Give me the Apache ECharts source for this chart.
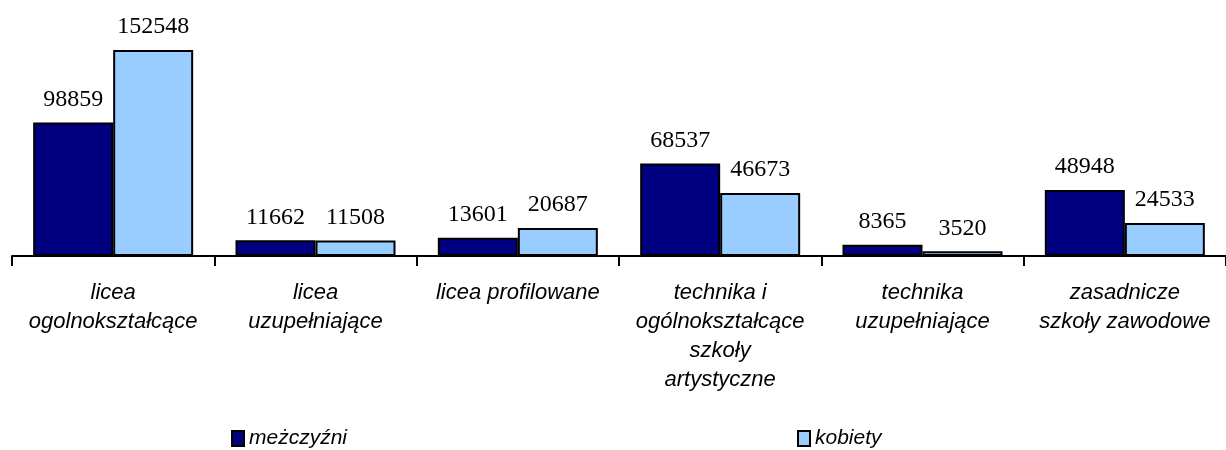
<!DOCTYPE html>
<html>
<head>
<meta charset="utf-8">
<script src="https://cdn.jsdelivr.net/npm/echarts@6/dist/echarts.min.js"></script>
<style>
  html, body { margin: 0; padding: 0; background: #fff; }
  #chart { width: 1226px; height: 450px; }
</style>
</head>
<body>
<div id="chart"></div>
<script>
var categories = [
  'licea\nogolnokształcące',
  'licea\nuzupełniające',
  'licea profilowane',
  'technika i\nogólnokształcące\nszkoły\nartystyczne',
  'technika\nuzupełniające',
  'zasadnicze\nszkoły zawodowe'
]
var menValues = [98859, 11662, 13601, 68537, 8365, 48948]
var womenValues = [152548, 11508, 20687, 46673, 3520, 24533]
var seriesNames = ['meżczyźni', 'kobiety']

var chart = echarts.init(document.getElementById('chart'))

function barLabel() {
  return {
    show: true,
    position: 'top',
    distance: 11,
    color: '#000',
    fontFamily: 'Liberation Serif',
    fontSize: 24,
    fontWeight: 'normal'
  }
}

var legendText = {
  fontFamily: '"Liberation Sans", Arial, sans-serif',
  fontStyle: 'italic',
  fontSize: 21,
  color: '#000',
  padding: [0, 0, 0, 0]
}

chart.setOption({
  backgroundColor: '#fff',
  animation: false,
  grid: { left: 12, right: -7, top: 13, height: 243 },
  legend: [
    {
      data: [seriesNames[0]],
      icon: 'rect',
      left: 226, top: 423,
      itemWidth: 12, itemHeight: 15, itemGap: 4,
      textStyle: legendText
    },
    {
      data: [seriesNames[1]],
      icon: 'rect',
      left: 792, top: 423,
      itemWidth: 12, itemHeight: 15, itemGap: 4,
      textStyle: legendText
    }
  ],
  xAxis: {
    type: 'category',
    data: categories,
    axisLine: { lineStyle: { color: '#000', width: 2 } },
    axisTick: { show: true, length: 10, lineStyle: { color: '#000', width: 2 } },
    axisLabel: {
      interval: 0,
      margin: 22,
      color: '#000',
      fontFamily: '"Liberation Sans", Arial, sans-serif',
      fontStyle: 'italic',
      fontSize: 22,
      lineHeight: 29
    }
  },
  yAxis: {
    type: 'value',
    min: 0,
    max: 180000,
    show: false,
    splitLine: { show: false }
  },
  series: [
    {
      name: seriesNames[0],
      type: 'bar',
      data: menValues,
      barWidth: 80,
      barGap: '0%',
      itemStyle: { color: '#000080', borderColor: '#000', borderWidth: 2 },
      label: barLabel()
    },
    {
      name: seriesNames[1],
      type: 'bar',
      data: womenValues,
      barWidth: 80,
      barGap: '0%',
      itemStyle: { color: '#99ccff', borderColor: '#000', borderWidth: 2 },
      label: barLabel()
    }
  ]
})
</script>
</body>
</html>
